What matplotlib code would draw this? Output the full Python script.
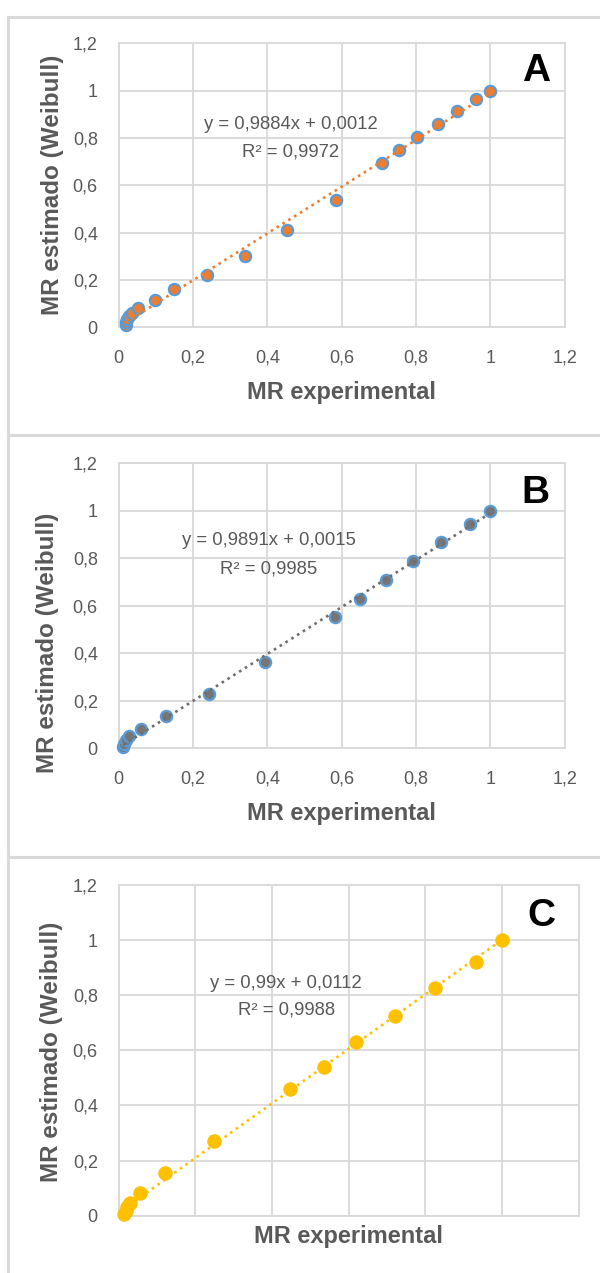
import numpy as np
import matplotlib
matplotlib.use("Agg")
import matplotlib.pyplot as plt
from matplotlib.patches import Rectangle
from matplotlib.ticker import FuncFormatter, MultipleLocator

plt.rcParams['font.family'] = ['Liberation Sans', 'DejaVu Sans']

# Moisture ratio: experimental vs. Weibull-estimated, three drying conditions
mr_exp_a = [0.021, 0.019, 0.022, 0.028, 0.035, 0.053, 0.098, 0.149, 0.237, 0.340,
            0.453, 0.584, 0.708, 0.753, 0.802, 0.859, 0.910, 0.962, 1.000]
mr_est_a = [0.010, 0.022, 0.035, 0.048, 0.062, 0.080, 0.115, 0.161, 0.221, 0.303,
            0.411, 0.538, 0.693, 0.749, 0.806, 0.859, 0.915, 0.965, 1.000]

mr_exp_b = [0.012, 0.014, 0.020, 0.028, 0.060, 0.127, 0.242, 0.394, 0.582, 0.648,
            0.720, 0.792, 0.866, 0.944, 1.000]
mr_est_b = [0.004, 0.020, 0.036, 0.052, 0.080, 0.134, 0.230, 0.363, 0.554, 0.627,
            0.708, 0.789, 0.869, 0.944, 1.000]

mr_exp_c = [0.014, 0.018, 0.022, 0.030, 0.055, 0.120, 0.248, 0.447, 0.536, 0.619,
            0.722, 0.826, 0.933, 1.000]
mr_est_c = [0.007, 0.018, 0.030, 0.045, 0.083, 0.154, 0.271, 0.459, 0.541, 0.631,
            0.726, 0.825, 0.921, 1.000]

# Linear trendline fits
slopes = [0.9884, 0.9891, 0.99]
intercepts = [0.0012, 0.0015, 0.0112]
r_squared = [0.9972, 0.9985, 0.9988]

panel_letters = ['A', 'B', 'C']
x_label = 'MR experimental'
y_label = 'MR estimado (Weibull)'

W, H = 600, 1273
fig = plt.figure(figsize=(W / 100, H / 100), dpi=100)

GRID = '#d9d9d9'
TXT = '#595959'


def px_rect(left, top, right, bottom):
    return [left / W, 1 - bottom / H, (right - left) / W, (bottom - top) / H]


def comma(v):
    s = f"{v:.4f}".rstrip('0').rstrip('.')
    return s.replace('.', ',')


tick_fmt = FuncFormatter(lambda v, p: f"{v:g}".replace('.', ','))

panels = [
    dict(x=mr_exp_a, y=mr_est_a, box=(118.6, 43.3, 564.8, 327.3),
         frame=(8.4, 16.7, 700, 435), face='#ED7D31', edge='#5B9BD5',
         trend='#ED7D31', ms=8.1, mew=1.6, xticks=True,
         eq=(0.463, 0.859, 0.742), letter=(1.124, 1.083),
         ylab=(-0.149, 0.5), xlab=(0.5, -0.228)),
    dict(x=mr_exp_b, y=mr_est_b, box=(118.6, 463.3, 564.8, 748.3),
         frame=(8.4, 435, 700, 857), face='#767676', edge='#5B9BD5',
         trend='#6e6e6e', ms=8.1, mew=1.6, xticks=True,
         eq=(0.404, 0.873, 0.757), letter=(1.121, 1.073),
         ylab=(-0.159, 0.371), xlab=(0.5, -0.228)),
    dict(x=mr_exp_c, y=mr_est_c, box=(118.6, 885.0, 578.6, 1215.7),
         frame=(8.4, 857, 700, 1400), face='#FFC000', edge='#FFC000',
         trend='#FFC000', ms=9.6, mew=0.8, xticks=False,
         eq=(0.437, 0.843, 0.746), letter=(1.103, 1.087),
         ylab=(-0.1454, 0.496), xlab=(0.5, -0.0635)),
]

for i, p in enumerate(panels):
    fl, ft, fr, fb = p['frame']
    fig.add_artist(Rectangle((fl / W, 1 - fb / H), (fr - fl) / W, (fb - ft) / H,
                             transform=fig.transFigure, fill=False,
                             edgecolor=GRID, linewidth=2.2))

    ax = fig.add_axes(px_rect(*p['box']))
    ax.set_xlim(0, 1.2)
    ax.set_ylim(0, 1.2)
    ax.xaxis.set_major_locator(MultipleLocator(0.2))
    ax.yaxis.set_major_locator(MultipleLocator(0.2))
    ax.xaxis.set_major_formatter(tick_fmt)
    ax.yaxis.set_major_formatter(tick_fmt)
    ax.grid(True, color=GRID, linewidth=1.3)
    ax.set_axisbelow(True)
    for s in ax.spines.values():
        s.set_color(GRID)
        s.set_linewidth(1.3)
    ax.tick_params(length=0, labelsize=13, labelcolor=TXT, pad=15)
    ax.tick_params(axis='x', pad=16)
    if not p['xticks']:
        ax.tick_params(axis='x', labelbottom=False)

    x = np.array(p['x'])
    y = np.array(p['y'])
    ax.plot(x, y, 'o', ms=p['ms'], mfc=p['face'], mec=p['edge'],
            mew=p['mew'], zorder=3, clip_on=False)

    xs = np.array([x.min(), x.max()])
    ax.plot(xs, slopes[i] * xs + intercepts[i], color=p['trend'],
            linestyle=(0, (1.0, 1.6)), dash_capstyle='butt', lw=1.9, zorder=4)

    ex, ey1, ey2 = p['eq']
    ax.text(ex, ey1, f"y = {comma(slopes[i])}x + {comma(intercepts[i])}",
            ha='center', va='center', fontsize=13.3, color=TXT, zorder=5)
    ax.text(ex, ey2, f"R² = {comma(r_squared[i])}",
            ha='center', va='center', fontsize=13.3, color=TXT, zorder=5)

    lx, ly = p['letter']
    ax.text(lx, ly, panel_letters[i], ha='center', va='center', fontsize=28,
            fontweight='bold', color='black', clip_on=False)

    ax.set_xlabel(x_label, fontsize=17, fontweight='bold', color=TXT, va='center')
    ax.set_ylabel(y_label, fontsize=17.5, fontweight='bold', color=TXT, va='center')
    ax.xaxis.set_label_coords(*p['xlab'])
    ax.yaxis.set_label_coords(*p['ylab'])

fig.savefig('out.png', dpi=100, facecolor='white')
